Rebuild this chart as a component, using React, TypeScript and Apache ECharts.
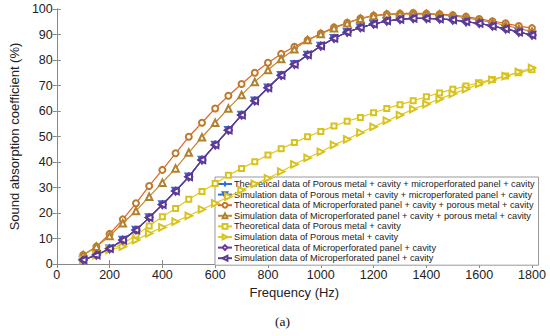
import React, { useEffect, useRef } from "react";
import * as echarts from "echarts";

const freqs = [100,150,200,250,300,350,400,450,500,550,600,650,700,750,800,850,900,950,1000,1050,1100,1150,1200,1250,1300,1350,1400,1450,1500,1550,1600,1650,1700,1750,1800];

const theoPMcMPPc = [1.6,3.5,6.0,9.4,13.3,18.2,23.3,28.6,34.2,40.8,46.7,52.5,58.4,64.0,69.1,74.0,78.3,82.0,85.5,88.5,90.9,92.7,94.1,95.3,95.9,96.3,96.3,96.1,95.7,95.0,94.4,93.3,92.2,90.9,89.8];
const simPMcMPPc = [1.6,3.5,6.0,9.4,13.3,18.2,23.3,28.6,34.2,40.8,46.7,52.5,58.4,64.0,69.1,74.0,78.3,82.0,85.5,88.5,90.9,92.7,94.1,95.3,95.9,96.3,96.3,96.1,95.7,95.0,94.4,93.3,92.2,90.9,89.8];
const theoMPPcPMc = [3.5,6.8,11.8,17.5,23.8,30.6,36.9,43.4,49.9,55.4,61.0,66.0,70.6,75.0,78.9,82.4,85.2,87.8,90.4,92.8,94.6,96.3,97.4,98.0,98.2,98.4,98.2,98.0,97.6,97.0,96.1,95.2,94.4,93.3,92.5];
const simMPPcPMc = [3.5,6.8,11.0,16.0,20.8,26.4,31.9,37.5,43.7,49.7,55.4,61.0,66.3,71.4,76.1,80.4,84.2,87.8,90.2,92.5,94.4,96.2,97.3,97.8,98.0,98.1,98.0,97.8,97.3,96.6,95.6,94.7,93.6,92.3,91.2];
const theoPMc = [1.6,3.5,6.0,7.8,11.4,14.9,18.5,21.8,25.4,28.4,31.6,34.8,37.5,40.1,42.7,45.2,47.6,49.9,52.0,54.1,56.0,57.5,59.3,61.0,62.5,64.0,65.6,67.1,68.5,69.8,71.1,72.4,73.7,75.0,76.2];
const simPMc = [1.6,3.5,5.5,6.8,9.4,12.0,14.4,16.6,18.9,21.4,23.8,26.4,29.0,31.4,33.6,36.2,39.1,41.6,44.0,46.7,48.9,51.5,53.8,56.2,58.4,60.7,62.7,64.7,66.7,68.6,70.6,72.2,73.7,75.3,76.9];
const theoMPPc = [1.6,3.5,6.0,9.4,13.3,18.2,23.3,28.6,34.2,40.8,46.7,52.5,58.4,64.0,69.1,74.0,78.3,82.0,85.5,88.5,90.9,92.7,94.1,95.3,95.9,96.3,96.3,96.1,95.7,95.0,94.4,93.3,92.2,90.9,89.8];
const simMPPc = [1.6,3.5,6.0,9.4,13.3,18.2,23.3,28.6,34.2,40.8,46.7,52.5,58.4,64.0,69.1,74.0,78.3,82.0,85.5,88.5,90.9,92.7,94.1,95.3,95.9,96.3,96.3,96.1,95.7,95.0,94.4,93.3,92.2,90.9,89.8];

const seriesNames = [
  "Theoretical data of Porous metal + cavity + microperforated panel + cavity",
  "Simulation data of Porous metal + cavity + microperforated panel + cavity",
  "Theoretical data of Microperforated panel + cavity + porous metal + cavity",
  "Simulation data of Microperforated panel + cavity + porous metal + cavity",
  "Theoretical data of Porous metal + cavity",
  "Simulation data of Porous metal + cavity",
  "Theoretical data of Microperforated panel + cavity",
  "Simulation data of Microperforated panel + cavity",
];
const seriesData = [theoPMcMPPc, simPMcMPPc, theoMPPcPMc, simMPPcPMc, theoPMc, simPMc, theoMPPc, simMPPc];

const xTicks = [0, 1800, 200];
const yTicks = [0, 100, 10];

const plusPath = "path://M0,5L10,5M5,0L5,10";

export default function App() {
  const ref = useRef<HTMLDivElement>(null);
  useEffect(() => {
    const chart = echarts.init(ref.current!, null, { renderer: "svg" });
    const lineColors = ["#2f6fd6", "#3a6fd0", "#e0632a", "#c9862e", "#e2c91e", "#e2c91e", "#6a3d9a", "#5b3a96"];
    const markerColors = ["#2f6fd6", "#3a6fd0", "#c0782b", "#b0822f", "#d8c21c", "#d8c21c", "#6a3d9a", "#5b3a96"];
    const symbols = [plusPath, "emptyTriangle", "emptyCircle", "emptyTriangle", "emptyRect", "emptyTriangle", "emptyDiamond", "emptyTriangle"];
    const rotates = [0, 180, 0, 0, 0, -90, 0, 90];
    const sizes = [6, 6.5, 6, 6.5, 5, 6.5, 7, 6.5];
    const series = seriesNames.map((name, i) => ({
      name,
      type: "line",
      data: freqs.map((f, j) => [f, seriesData[i][j]]),
      symbol: symbols[i],
      symbolRotate: rotates[i],
      symbolSize: sizes[i],
      showAllSymbol: true,
      lineStyle: { color: lineColors[i], width: 1.2 },
      itemStyle: {
        color: markerColors[i],
        borderColor: markerColors[i],
        borderWidth: 0.9,
      },
      emphasis: { disabled: true },
      z: 2 + i,
    }));
    const axisLine = { show: true, lineStyle: { color: "#888", width: 1 } };
    const fmt = (v: number) => String(v);
    chart.setOption({
      animation: false,
      backgroundColor: "#fff",
      grid: { left: 42, right: 18, top: 9, bottom: 72, containLabel: false },
      xAxis: [
        {
          type: "value", min: xTicks[0], max: xTicks[1], interval: xTicks[2],
          name: "Frequency (Hz)", nameLocation: "middle", nameGap: 16,
          nameTextStyle: { fontFamily: "Liberation Sans, Arial", fontSize: 13, color: "#222" },
          axisLine, axisTick: { show: true, inside: true, length: 4, lineStyle: { color: "#888" } },
          axisLabel: { fontFamily: "Liberation Sans, Arial", fontSize: 12.5, color: "#222", margin: 4, formatter: fmt },
          splitLine: { show: false },
        },
        {
          type: "value", position: "top", min: xTicks[0], max: xTicks[1], interval: xTicks[2],
          axisLine, axisTick: { show: true, inside: true, length: 4, lineStyle: { color: "#888" } },
          axisLabel: { show: false }, splitLine: { show: false },
        },
      ],
      yAxis: [
        {
          type: "value", min: yTicks[0], max: yTicks[1], interval: yTicks[2],
          name: "Sound absorption coefficient (%)", nameLocation: "middle", nameGap: 24,
          nameTextStyle: { fontFamily: "Liberation Sans, Arial", fontSize: 13, color: "#222" },
          axisLine, axisTick: { show: true, inside: true, length: 4, lineStyle: { color: "#888" } },
          axisLabel: { fontFamily: "Liberation Sans, Arial", fontSize: 12.5, color: "#222", margin: 4, formatter: fmt },
          splitLine: { show: false },
        },
        {
          type: "value", position: "right", min: yTicks[0], max: yTicks[1], interval: yTicks[2],
          axisLine, axisTick: { show: true, inside: true, length: 4, lineStyle: { color: "#888" } },
          axisLabel: { show: false }, splitLine: { show: false },
        },
      ],
      legend: {
        orient: "vertical",
        left: 215, top: 177,
        padding: [2, 4, 2, 2],
        itemGap: 0.6,
        itemWidth: 14, itemHeight: 6,
        backgroundColor: "#fff",
        borderColor: "#999", borderWidth: 1,
        textStyle: { fontFamily: "Liberation Sans, Arial", fontSize: 9.2, color: "#222", lineHeight: 10, padding: [0, 0, 0, -3] },
        data: seriesNames,
      },
      graphic: [
        { type: "text", left: 275, top: 314, style: { text: "(a)", font: "13.5px 'Liberation Serif', serif", fill: "#111" } },
      ],
      series,
    });
    return () => chart.dispose();
  }, []);
  return <div ref={ref} style={{ width: 550, height: 336, position: "absolute", left: 0, top: 0 }} />;
}
